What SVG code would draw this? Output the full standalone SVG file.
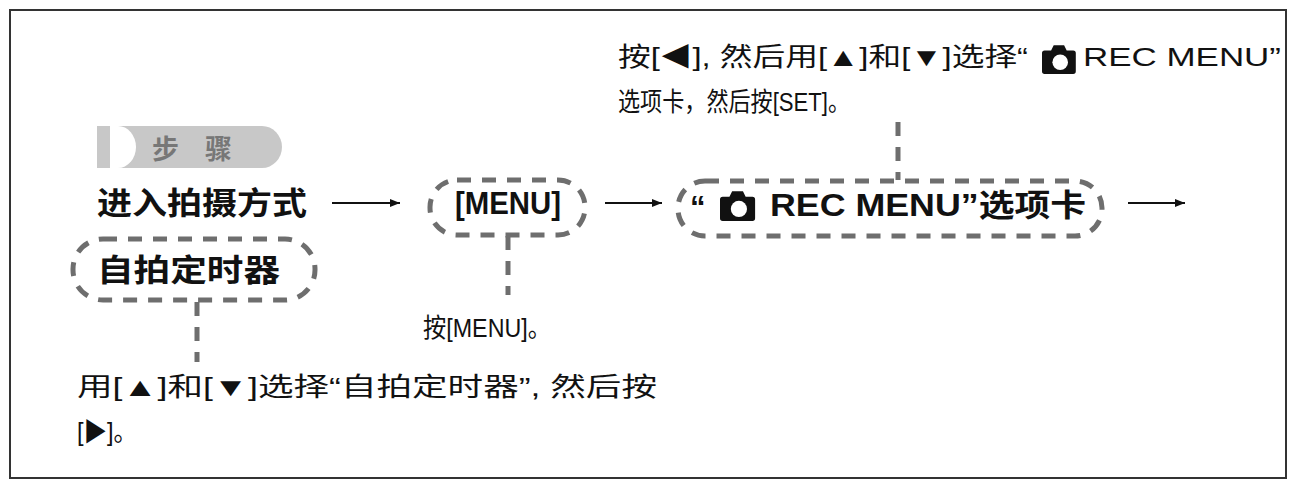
<svg xmlns="http://www.w3.org/2000/svg" width="1296" height="487" viewBox="0 0 1296 487">
<style>
.n{font-family:"Liberation Sans","Noto Sans CJK SC",sans-serif;font-size:26px;fill:#111}
.b{font-family:"Liberation Sans","Noto Sans CJK SC",sans-serif;font-size:31px;font-weight:bold;fill:#111}
.dash{fill:none;stroke:#6e6e6e;stroke-width:5;stroke-dasharray:14 11}
.ar{stroke:#111;stroke-width:2;fill:none}
</style>
<defs>
<marker id="ah" viewBox="0 0 10 10" refX="10" refY="5" markerWidth="10" markerHeight="10" markerUnits="userSpaceOnUse" orient="auto"><path d="M0,1 L10,5 L0,9 Z" fill="#111"/></marker>
<g id="cam"><path d="M2,5 h5 l2,-4 h8 l2,4 h5 a2,2 0 0 1 2,2 v14 a2,2 0 0 1 -2,2 h-22 a2,2 0 0 1 -2,-2 v-14 a2,2 0 0 1 2,-2 z" fill="#111"/><circle cx="14" cy="14" r="6" fill="#fff"/></g>
</defs>
<rect x="0" y="0" width="1296" height="487" fill="#fff"/>
<rect x="10" y="10" width="1276" height="468" fill="none" stroke="#333" stroke-width="2"/>
<g id="badge">
<path d="M97,126 H262 A20,21 0 0 1 262,168 H97 Z" fill="#c8c8c8"/>
<path d="M110,126 H118 A18,21 0 0 1 118,168 H110 Z" fill="#fff"/>
<text x="152" y="159" font-family="Noto Sans CJK SC,sans-serif" font-size="27" font-weight="bold" fill="#777" textLength="80">步骤</text>
</g>
<g id="start"><text class="b" x="97" y="214" textLength="210" lengthAdjust="spacingAndGlyphs">进入拍摄方式</text></g>
<g id="menu">
<rect class="dash" x="430" y="180" width="155" height="55" rx="27"/>
<text class="b" x="455" y="214" textLength="106" lengthAdjust="spacingAndGlyphs">[MENU]</text>
</g>
<g id="rec">
<rect class="dash" x="678" y="181" width="424" height="55" rx="27"/>
<text class="b" x="690" y="218">“</text>
<use href="#cam" transform="translate(720,190) scale(1.35)"/>
<text class="b" x="770" y="216" textLength="316" lengthAdjust="spacingAndGlyphs">REC MENU”选项卡</text>
</g>
<g id="timer">
<rect class="dash" x="73" y="239" width="242" height="61" rx="30"/>
<text class="b" x="97" y="281" textLength="183" lengthAdjust="spacingAndGlyphs">自拍定时器</text>
</g>
<g id="notes">
<text class="n" x="423" y="337" textLength="128" lengthAdjust="spacingAndGlyphs">按[MENU]。</text>
<text class="n" x="618" y="66" textLength="410" lengthAdjust="spacingAndGlyphs">按[◀], 然后用[▲]和[▼]选择“</text>
<use href="#cam" transform="translate(1042,44) scale(1.3)"/>
<text class="n" x="1083" y="66" textLength="198" lengthAdjust="spacingAndGlyphs">REC MENU”</text>
<text class="n" x="618" y="111" textLength="232" lengthAdjust="spacingAndGlyphs">选项卡，然后按[SET]。</text>
<text class="n" x="77" y="396" textLength="580" lengthAdjust="spacingAndGlyphs">用[▲]和[▼]选择“自拍定时器”, 然后按</text>
<text class="n" x="77" y="441" textLength="60" lengthAdjust="spacingAndGlyphs">[▶]。</text>
</g>
<g id="connectors">
<line class="ar" x1="332" y1="203" x2="400" y2="203" marker-end="url(#ah)"/>
<line class="ar" x1="605" y1="203" x2="662" y2="203" marker-end="url(#ah)"/>
<line class="ar" x1="1128" y1="203" x2="1185" y2="203" marker-end="url(#ah)"/>
<line class="dash" x1="508" y1="236" x2="508" y2="295"/>
<line class="dash" x1="898" y1="122" x2="898" y2="180"/>
<line class="dash" x1="197" y1="302" x2="197" y2="362"/>
</g>
</svg>
